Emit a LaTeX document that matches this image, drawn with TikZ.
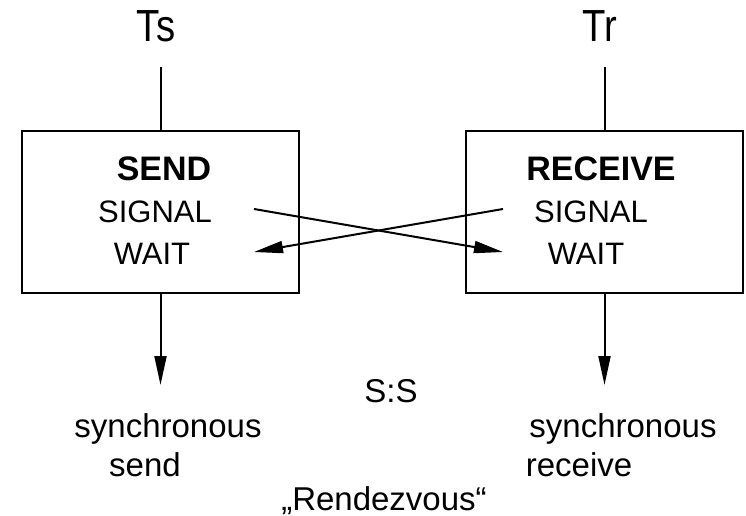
\documentclass[tikz,border=0pt]{standalone}
\usepackage{fontspec}
\setmainfont{Liberation Sans}
\usetikzlibrary{arrows.meta}
\tikzset{
  lbl/.style={inner sep=0pt, anchor=base},
  bigtext/.style={lbl, font=\fontsize{45}{50}\selectfont, xscale=0.85},
  headtext/.style={lbl, font=\fontsize{34}{40}\selectfont\bfseries},
  boxtext/.style={lbl, font=\fontsize{31}{37}\selectfont},
  undertext/.style={lbl, font=\fontsize{33}{39}\selectfont},
  procbox/.style={draw, line width=2pt, minimum width=277pt, minimum height=162pt, inner sep=0pt},
  conn/.style={line width=2pt},
  arr/.style={conn, -{Triangle[length=29pt,width=12pt]}},
}
\begin{document}
\begin{tikzpicture}[x=1pt,y=-1pt]
\useasboundingbox (0,0) rectangle (746,516);
\node[procbox] (lbox) at (160.5,212) {};
\node[procbox] (rbox) at (604.5,212) {};
\node[bigtext] (ts) at (156,42) {Ts};
\node[bigtext] (tr) at (600,42) {Tr};
\node[headtext] (send) at (164,180) {SEND};
\node[boxtext] (lsig) at (155,222) {SIGNAL};
\node[boxtext] (lwait) at (152,264) {WAIT};
\node[headtext] (recv) at (601,180) {RECEIVE};
\node[boxtext] (rsig) at (591,222) {SIGNAL};
\node[boxtext] (rwait) at (586,264) {WAIT};
\node[undertext] (ss) at (391,402) {S:S};
\node[undertext] (syn1) at (168,437) {synchronous};
\node[undertext] (sendt) at (145,476) {send};
\node[undertext] (syn2) at (623,437) {synchronous};
\node[undertext] (recvt) at (579,476) {receive};
\node[undertext] (rdv) at (384,510) {„Rendezvous“};
\coordinate (tstop) at (160.5,67);
\coordinate (trtop) at (604.5,67);
\coordinate (ldown) at (160.5,385);
\coordinate (rdown) at (604.5,385);
\coordinate (ls) at (254,209);
\coordinate (lw) at (254,252);
\coordinate (rs) at (503,209);
\coordinate (rw) at (503,252);
\draw[conn] (tstop) -- (lbox.north);
\draw[conn] (trtop) -- (rbox.north);
\draw[arr] (lbox.south) -- (ldown);
\draw[arr] (rbox.south) -- (rdown);
\draw[arr] (ls) -- (rw);
\draw[arr] (rs) -- (lw);
\end{tikzpicture}
\end{document}
